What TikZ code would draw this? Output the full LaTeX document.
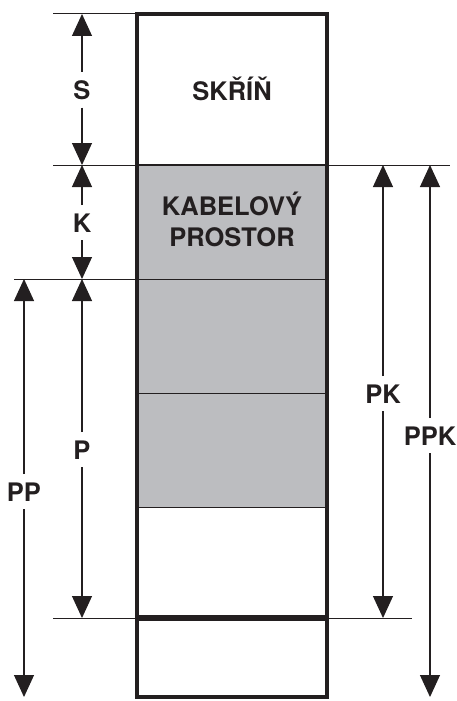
\documentclass[tikz,border=0pt]{standalone}
\usepackage{fontspec}
\setmainfont{TeX Gyre Heros}
\usetikzlibrary{arrows.meta}
\definecolor{cablegray}{RGB}{188,189,192}
\definecolor{inkblack}{RGB}{35,31,32}
\tikzset{
    every node/.style={font=\fontsize{25.5}{27}\selectfont\bfseries, text=inkblack, inner sep=8pt},
    dimarrow/.style={draw=inkblack, line width=1.1pt, -{Triangle[width=20pt,length=22pt]}},
    extline/.style={draw=inkblack, line width=1pt}
}
\begin{document}
\begin{tikzpicture}[x=1pt, y=-1pt]
        \useasboundingbox (0,0) rectangle (457,701);

        % Cable space shading
        \fill[cablegray] (137,165) rectangle (327,507);

        % Level coordinates
        \coordinate (sTop) at (82,14);
        \coordinate (sBot) at (82,165);
        \coordinate (kBot) at (82,279);
        \coordinate (pBot) at (82,618);
        \coordinate (ppTop) at (24,279);
        \coordinate (ppBot) at (24,697);
        \coordinate (pkTop) at (383,165);
        \coordinate (pkBot) at (383,618);
        \coordinate (ppkTop) at (430,165);
        \coordinate (ppkBot) at (430,697);

        % Extension lines
        \draw[extline] (53,14) -- (137,14);
        \draw[extline] (53,165) -- (450,165);
        \draw[extline] (14,279) -- (327,279);
        \draw[extline] (53,618) -- (412,618);
        \draw[extline] (137,393) -- (327,393);
        \draw[extline] (137,507) -- (327,507);

        % Cabinet frame
        \draw[inkblack, line width=2.5pt] (137,165) -- (327,165);
        \draw[inkblack, line width=6pt] (137,618) -- (327,618);
        \draw[inkblack, line width=3.2pt] (137,14) rectangle (327,697);

        % Labels inside
        \node[anchor=base] (skrin) at (232,100) {SKŘÍŇ};
        \node[anchor=base, inner sep=0pt] (kabel) at (232,215) {KABELOVÝ};
        \node[anchor=base, inner sep=0pt] (prostor) at (232,246) {PROSTOR};

        % Dimension labels
        \node[anchor=base] (S) at (82,99) {S};
        \node[anchor=base] (K) at (82,232) {K};
        \node[anchor=base] (P) at (82,459) {P};
        \node[anchor=base] (PP) at (24,501) {PP};
        \node[anchor=base] (PK) at (383,403) {PK};
        \node[anchor=base] (PPK) at (430,445) {PPK};

        % Dimension arrows
        \draw[dimarrow] (S.north) -- (sTop);
        \draw[dimarrow] (S.south) -- (sBot);
        \draw[dimarrow] (K.north) -- (sBot);
        \draw[dimarrow] (K.south) -- (kBot);
        \draw[dimarrow] (P.north) -- (kBot);
        \draw[dimarrow] (P.south) -- (pBot);
        \draw[dimarrow] (PP.north) -- (ppTop);
        \draw[dimarrow] (PP.south) -- (ppBot);
        \draw[dimarrow] (PK.north) -- (pkTop);
        \draw[dimarrow] (PK.south) -- (pkBot);
        \draw[dimarrow] (PPK.north) -- (ppkTop);
        \draw[dimarrow] (PPK.south) -- (ppkBot);
    \end{tikzpicture}
\end{document}
